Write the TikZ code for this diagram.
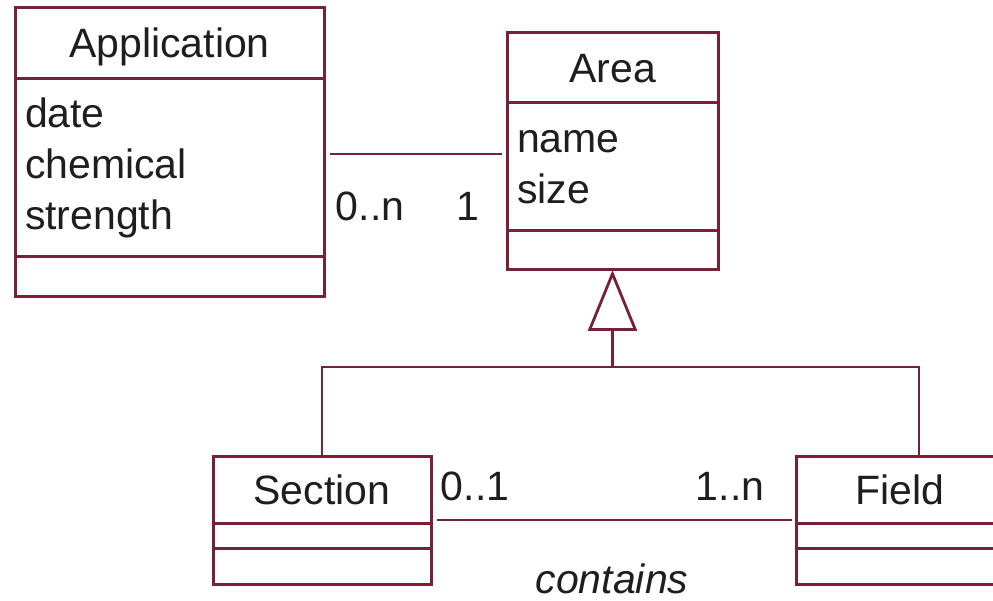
\documentclass[tikz,border=0pt]{standalone}
\usepackage{fontspec}
\setmainfont{Liberation Sans}
\usepackage{xcolor}
\usetikzlibrary{arrows.meta,positioning}
\definecolor{umlline}{RGB}{118,34,54}
\definecolor{umltext}{RGB}{30,30,30}

\begin{document}
\begin{tikzpicture}[
  x=1pt, y=-1pt,
  font=\fontsize{41}{51}\selectfont,
  text=umltext,
  every node/.style={outer sep=0pt},
  part/.style={draw=umlline,line width=3pt,fill=white,inner sep=0pt},
  head/.style={part,text height=29pt,text depth=0pt},
  attrs/.style={part,align=left,inner xsep=10pt,text width=#1},
  ops/.style={part},
  link/.style={draw=umlline,line width=2.8pt},
  mult/.style={text height=29pt,text depth=0pt,inner sep=0pt},
  gen/.style={link,-{Triangle[open,length=61pt,width=49pt]}}
]
\useasboundingbox (0,0) rectangle (993,601);
\fill[white] (0,0) rectangle (993,601);

% --- Classes ---
\node[head, minimum width=309pt, minimum height=71pt, anchor=north west] (apphead) at (15,8) {Application};
\node[attrs=289pt, minimum height=178pt, below=0pt of apphead] (appattr) {date\\chemical\\strength};
\node[ops,  minimum width=309pt, minimum height=40pt, below=0pt of appattr] (appops) {};

\node[head, minimum width=211pt, minimum height=70pt, anchor=north west] (areahead) at (507,33) {Area};
\node[attrs=191pt, minimum height=128pt, below=0pt of areahead] (areaattr) {name\\size};
\node[ops,  minimum width=211pt, minimum height=39pt, below=0pt of areaattr] (areaops) {};

\node[head, minimum width=218pt, minimum height=67pt, anchor=north west] (sechead) at (213,456) {Section};
\node[ops,  minimum width=218pt, minimum height=25pt, below=0pt of sechead] (secattr) {};
\node[ops,  minimum width=218pt, minimum height=36pt, below=0pt of secattr] (secops) {};

\node[head, minimum width=208pt, minimum height=67pt, anchor=north west] (fieldhead) at (796,456) {Field};
\node[ops,  minimum width=208pt, minimum height=25pt, below=0pt of fieldhead] (fieldattr) {};
\node[ops,  minimum width=208pt, minimum height=36pt, below=0pt of fieldattr] (fieldops) {};

% --- Associations ---
\coordinate (uses) at ([yshift=14pt]appattr.east);
\draw[link, shorten <=6pt, shorten >=5pt] (uses) -- (uses -| areaattr.west);
\node[mult] (appmult)  at (370,206) {0..n};
\node[mult] (areamult) at (468,206) {1};

\draw[link, shorten <=6pt, shorten >=4pt] ([yshift=3pt]sechead.south east) -- ([yshift=3pt]fieldhead.south west);
\node[mult] (secmult)   at (475,486) {0..1};
\node[mult] (fieldmult) at (730,486) {1..n};
\node[mult, font=\fontsize{41}{51}\selectfont\itshape] (contains) at (612,579) {contains};

% --- Generalization ---
\coordinate (fork) at (areaops.south |- 0,367);
\draw[gen] (fork) -- (areaops.south);
\draw[link] (sechead.north) |- (fork) -| ([xshift=19pt]fieldhead.north);
\end{tikzpicture}
\end{document}
